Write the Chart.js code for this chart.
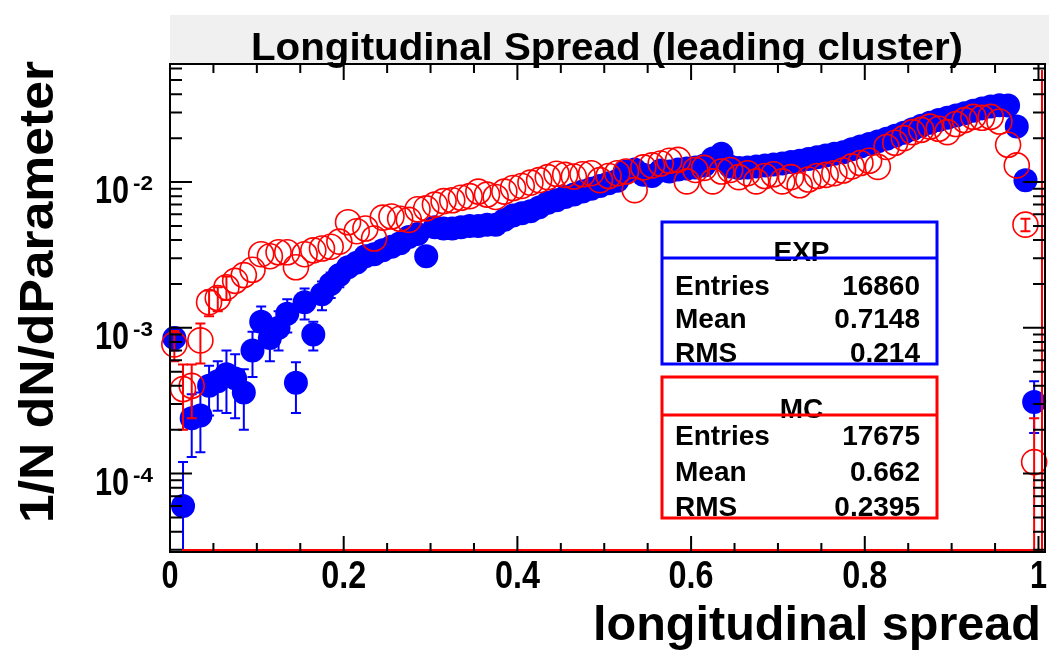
<!DOCTYPE html>
<html>
<head>
<meta charset="utf-8">
<script src="https://cdn.jsdelivr.net/npm/chart.js@4.4.1/dist/chart.umd.min.js"></script>
<style>
  html, body { margin: 0; padding: 0; background: #fff; }
  #wrap { width: 1049px; height: 653px; }
</style>
</head>
<body>
<div id="wrap"><canvas id="chart" width="1049" height="653"></canvas></div>
<script>
// histogram bin centres (100 bins from 0 to 1)
const binCentres = [
  0.005, 0.015, 0.025, 0.035, 0.045, 0.055, 0.065, 0.075, 0.085, 0.095,
  0.105, 0.115, 0.125, 0.135, 0.145, 0.155, 0.165, 0.175, 0.185, 0.195,
  0.205, 0.215, 0.225, 0.235, 0.245, 0.255, 0.265, 0.275, 0.285, 0.295,
  0.305, 0.315, 0.325, 0.335, 0.345, 0.355, 0.365, 0.375, 0.385, 0.395,
  0.405, 0.415, 0.425, 0.435, 0.445, 0.455, 0.465, 0.475, 0.485, 0.495,
  0.505, 0.515, 0.525, 0.535, 0.545, 0.555, 0.565, 0.575, 0.585, 0.595,
  0.605, 0.615, 0.625, 0.635, 0.645, 0.655, 0.665, 0.675, 0.685, 0.695,
  0.705, 0.715, 0.725, 0.735, 0.745, 0.755, 0.765, 0.775, 0.785, 0.795,
  0.805, 0.815, 0.825, 0.835, 0.845, 0.855, 0.865, 0.875, 0.885, 0.895,
  0.905, 0.915, 0.925, 0.935, 0.945, 0.955, 0.965, 0.975, 0.985, 0.995
];

// EXP (data), 1/N dN/dP per bin
const expValues = [
  8.5e-4, 6.0e-5, 2.4e-4, 2.5e-4, 4.0e-4, 4.3e-4, 4.8e-4, 4.5e-4, 3.6e-4, 7.0e-4,
  1.1e-3, 8.5e-4, 1.0e-3, 1.25e-3, 4.2e-4, 1.5e-3, 9.0e-4, 1.7e-3, 2.0e-3, 2.3e-3,
  2.6e-3, 2.8e-3, 3.1e-3, 3.2e-3, 3.4e-3, 3.6e-3, 3.8e-3, 4.2e-3, 4.4e-3, 3.1e-3,
  4.9e-3, 4.8e-3, 4.8e-3, 4.9e-3, 5.0e-3, 5.0e-3, 5.1e-3, 5.1e-3, 5.5e-3, 5.9e-3,
  6.1e-3, 6.3e-3, 6.7e-3, 7.2e-3, 7.5e-3, 7.9e-3, 8.2e-3, 8.6e-3, 9.0e-3, 9.4e-3,
  9.8e-3, 0.0102, 0.0118, 0.0122, 0.0112, 0.0110, 0.0120, 0.0118, 0.0122, 0.0124,
  0.0126, 0.0130, 0.0145, 0.0156, 0.0128, 0.0125, 0.0126, 0.0128, 0.0130, 0.0132,
  0.0134, 0.0137, 0.0140, 0.0144, 0.0148, 0.0152, 0.0156, 0.0160, 0.0168, 0.0175,
  0.0182, 0.0190, 0.0198, 0.0208, 0.0218, 0.0230, 0.0243, 0.0255, 0.0266, 0.0276,
  0.0286, 0.0296, 0.0308, 0.0320, 0.0330, 0.0336, 0.0335, 0.0240, 0.0103, 3.1e-4
];

// MC, 1/N dN/dP per bin
const mcValues = [
  7.7e-4, 3.8e-4, 4.0e-4, 8.2e-4, 1.5e-3, 1.6e-3, 1.9e-3, 2.1e-3, 2.3e-3, 2.5e-3,
  3.2e-3, 3.1e-3, 3.3e-3, 3.3e-3, 2.6e-3, 3.2e-3, 3.4e-3, 3.5e-3, 3.6e-3, 3.9e-3,
  5.3e-3, 4.6e-3, 4.8e-3, 4.1e-3, 5.7e-3, 5.8e-3, 5.6e-3, 5.5e-3, 6.5e-3, 6.6e-3,
  7.0e-3, 7.4e-3, 7.5e-3, 7.8e-3, 8.0e-3, 8.6e-3, 8.2e-3, 7.9e-3, 8.6e-3, 9.1e-3,
  9.4e-3, 0.0099, 0.0103, 0.0108, 0.0114, 0.0112, 0.0109, 0.0113, 0.0115, 0.0103,
  0.0110, 0.0115, 0.0118, 0.0088, 0.0126, 0.0130, 0.0134, 0.0140, 0.0142, 0.0101,
  0.0121, 0.0125, 0.0101, 0.0118, 0.0121, 0.0108, 0.0115, 0.0101, 0.0110, 0.0113,
  0.0101, 0.0108, 0.0095, 0.0104, 0.0110, 0.0112, 0.0115, 0.0120, 0.0128, 0.0135,
  0.0140, 0.0127, 0.0174, 0.0186, 0.0200, 0.0220, 0.0228, 0.0240, 0.0232, 0.0220,
  0.0250, 0.0266, 0.0280, 0.0276, 0.0280, 0.0260, 0.0180, 0.0130, 0.0051, 1.2e-4
];

// visible error bars (bin index -> error), others hide under the markers
const expErrors = {
  0: 1.5e-4, 1: 6.0e-5, 2: 1.1e-4, 3: 1.1e-4, 4: 1.5e-4, 5: 1.6e-4, 6: 2.2e-4,
  7: 2.1e-4, 8: 1.6e-4, 9: 2.4e-4, 10: 3.0e-4, 11: 2.6e-4, 12: 3.0e-4, 13: 3.2e-4,
  14: 1.6e-4, 15: 3.6e-4, 16: 2.0e-4, 17: 3.8e-4, 18: 4.0e-4, 19: 4.0e-4,
  97: 1.0e-3, 98: 8.0e-4, 99: 1.2e-4
};
const mcErrors = {
  0: 1.8e-4, 1: 1.8e-4, 2: 1.6e-4, 3: 2.5e-4, 4: 3.0e-4, 5: 3.0e-4, 6: 3.5e-4,
  98: 5.0e-4, 99: 1.2e-4
};

// axis ticks
const xMajorTicks = [0, 0.2, 0.4, 0.6, 0.8, 1];
const xTickLabels = ['0', '0.2', '0.4', '0.6', '0.8', '1'];
const xMinorTicks = [0.05, 0.1, 0.15, 0.25, 0.3, 0.35, 0.45, 0.5, 0.55, 0.65, 0.7, 0.75, 0.85, 0.9, 0.95];
const yMajorTicks = [1e-4, 1e-3, 1e-2];
const yTickExponents = ['-4', '-3', '-2'];
const yMinorTicks = [3e-5, 4e-5, 5e-5, 6e-5, 7e-5, 8e-5, 9e-5,
  2e-4, 3e-4, 4e-4, 5e-4, 6e-4, 7e-4, 8e-4, 9e-4,
  2e-3, 3e-3, 4e-3, 5e-3, 6e-3, 7e-3, 8e-3, 9e-3,
  2e-2, 3e-2, 4e-2, 5e-2, 6e-2];

// stats boxes
const statLabels = ['Entries', 'Mean', 'RMS'];
const expStats = ['16860', '0.7148', '0.214'];
const mcStats = ['17675', '0.662', '0.2395'];

const BLUE = '#0000ff';
const RED = '#ff0000';
const FONT = '"Liberation Sans", Arial, Helvetica, sans-serif';

function toPoints(vals) {
  return binCentres.map((x, i) => ({ x: x, y: vals[i] }));
}

// draw text squeezed/stretched to a given width
function fitText(ctx, text, x, y, font, width, align) {
  ctx.save();
  ctx.font = font;
  const w = ctx.measureText(text).width;
  const s = width ? width / w : 1;
  ctx.translate(x, y);
  ctx.scale(s, 1);
  ctx.textAlign = align || 'left';
  ctx.fillText(text, 0, 0);
  ctx.restore();
}

const errorBars = {
  id: 'errorBars',
  beforeDatasetDraw(chart, args) {
    const ds = chart.data.datasets[args.index];
    if (!ds.errs) return;
    const ctx = chart.ctx, xs = chart.scales.x, ys = chart.scales.y, area = chart.chartArea;
    ctx.save();
    ctx.beginPath();
    ctx.rect(area.left - 15, area.top, area.right - area.left + 30, area.bottom - area.top);
    ctx.clip();
    ctx.strokeStyle = ds.borderColor;
    ctx.lineWidth = 2;
    Object.keys(ds.errs).forEach(k => {
      const i = +k, e = ds.errs[k];
      const v = ds.data[i].y;
      const px = xs.getPixelForValue(ds.data[i].x);
      const top = ys.getPixelForValue(v + e);
      const low = v - e;
      const bot = low > ys.min ? ys.getPixelForValue(low) : area.bottom;
      ctx.beginPath();
      ctx.moveTo(px, top); ctx.lineTo(px, bot);
      ctx.moveTo(px - 5, top); ctx.lineTo(px + 5, top);
      if (low > ys.min) { ctx.moveTo(px - 5, bot); ctx.lineTo(px + 5, bot); }
      ctx.stroke();
    });
    ctx.restore();
  }
};

const rootFrame = {
  id: 'rootFrame',
  beforeDraw(chart) {
    const ctx = chart.ctx;
    ctx.save();
    ctx.fillStyle = '#ffffff';
    ctx.fillRect(0, 0, chart.width, chart.height);
    ctx.fillStyle = '#f0f0f0';
    ctx.fillRect(170, 15, chart.width - 170, 50);
    ctx.restore();
  },
  afterDraw(chart) {
    const ctx = chart.ctx, xs = chart.scales.x, ys = chart.scales.y, a = chart.chartArea;
    ctx.save();
    ctx.fillStyle = '#000';
    ctx.textBaseline = 'alphabetic';

    // title
    fitText(ctx, 'Longitudinal Spread (leading cluster)', 607, 60, 'bold 38px ' + FONT, 712, 'center');

    // red histogram outline along the floor and right edge
    ctx.strokeStyle = RED;
    ctx.lineWidth = 2;
    ctx.beginPath();
    ctx.moveTo(182, a.bottom - 2); ctx.lineTo(a.right - 3, a.bottom - 2); ctx.lineTo(a.right - 3, a.top + 6);
    ctx.stroke();

    // frame
    ctx.strokeStyle = '#000';
    ctx.lineWidth = 2;
    ctx.strokeRect(a.left, a.top, a.right - a.left, a.bottom - a.top);

    // x ticks (bottom and top)
    ctx.beginPath();
    xMajorTicks.forEach(v => {
      const p = xs.getPixelForValue(v);
      ctx.moveTo(p, a.bottom); ctx.lineTo(p, a.bottom - 16);
      ctx.moveTo(p, a.top); ctx.lineTo(p, a.top + 16);
    });
    xMinorTicks.forEach(v => {
      const p = xs.getPixelForValue(v);
      ctx.moveTo(p, a.bottom); ctx.lineTo(p, a.bottom - 9);
      ctx.moveTo(p, a.top); ctx.lineTo(p, a.top + 9);
    });
    // y ticks (left and right)
    yMajorTicks.forEach(v => {
      const p = ys.getPixelForValue(v);
      ctx.moveTo(a.left, p); ctx.lineTo(a.left + 22, p);
      ctx.moveTo(a.right, p); ctx.lineTo(a.right - 22, p);
    });
    yMinorTicks.forEach(v => {
      const p = ys.getPixelForValue(v);
      ctx.moveTo(a.left, p); ctx.lineTo(a.left + 12, p);
      ctx.moveTo(a.right, p); ctx.lineTo(a.right - 12, p);
    });
    ctx.stroke();

    // x tick labels
    xMajorTicks.forEach((v, i) => {
      const p = xs.getPixelForValue(v);
      const lab = xTickLabels[i];
      fitText(ctx, lab, p, 588, 'bold 38px ' + FONT, lab.length === 1 ? 17 : 45, 'center');
    });
    // y tick labels 10^n
    yMajorTicks.forEach((v, i) => {
      const p = ys.getPixelForValue(v);
      fitText(ctx, '10', 129, p + 21, 'bold 38px ' + FONT, 34, 'right');
      fitText(ctx, yTickExponents[i], 153, p + 8, 'bold 21px ' + FONT, 20, 'right');
    });

    // axis titles
    fitText(ctx, 'longitudinal spread', 1041, 640, 'bold 48px ' + FONT, 448, 'right');
    ctx.save();
    ctx.translate(53, 523);
    ctx.rotate(-Math.PI / 2);
    fitText(ctx, '1/N dN/dParameter', 0, 0, 'bold 48px ' + FONT, 462, 'left');
    ctx.restore();

    // stats boxes
    drawStats(ctx, 'EXP', expStats, BLUE, 222, 258, [295, 328, 362]);
    drawStats(ctx, 'MC', mcStats, RED, 377, 415, [445, 481, 516]);
    ctx.restore();
  }
};

function drawStats(ctx, name, vals, color, top, divider, rows) {
  const left = 662, right = 937, bottom = rows[2] + 2;
  ctx.save();
  ctx.fillStyle = '#fff';
  ctx.fillRect(left, top, right - left, bottom - top);
  ctx.fillStyle = '#000';
  ctx.font = 'bold 28px ' + FONT;
  ctx.textAlign = 'center';
  ctx.fillText(name, (left + right) / 2 + 2, divider + 3);
  statLabels.forEach((lab, i) => {
    ctx.textAlign = 'left';
    ctx.fillText(lab, left + 13, rows[i]);
    ctx.textAlign = 'right';
    ctx.fillText(vals[i], right - 17, rows[i]);
  });
  ctx.strokeStyle = color;
  ctx.lineWidth = 3;
  ctx.strokeRect(left, top, right - left, bottom - top);
  ctx.beginPath();
  ctx.moveTo(left, divider); ctx.lineTo(right, divider);
  ctx.stroke();
  ctx.restore();
}

new Chart(document.getElementById('chart'), {
  type: 'scatter',
  data: {
    datasets: [
      {
        label: 'EXP',
        data: toPoints(expValues),
        errs: expErrors,
        pointStyle: 'circle',
        pointRadius: 12,
        backgroundColor: BLUE,
        borderColor: BLUE,
        borderWidth: 0,
        clip: false,
        order: 2
      },
      {
        label: 'MC',
        data: toPoints(mcValues),
        errs: mcErrors,
        pointStyle: 'circle',
        pointRadius: 12.5,
        backgroundColor: 'rgba(0,0,0,0)',
        borderColor: RED,
        borderWidth: 1.6,
        clip: false,
        order: 1
      }
    ]
  },
  options: {
    responsive: false,
    animation: false,
    devicePixelRatio: 1,
    layout: { autoPadding: false, padding: { top: 64, right: 4, left: 0, bottom: 0 } },
    plugins: { legend: { display: false }, tooltip: { enabled: false }, title: { display: false } },
    scales: {
      x: {
        type: 'linear', min: 0, max: 1.0075,
        ticks: { display: false },
        grid: { display: false },
        border: { display: false },
        afterFit: s => { s.height = 101; }
      },
      y: {
        type: 'logarithmic', min: 2.9e-5, max: 0.0645,
        ticks: { display: false },
        grid: { display: false },
        border: { display: false },
        afterFit: s => { s.width = 170; }
      }
    }
  },
  plugins: [errorBars, rootFrame]
});
</script>
</body>
</html>
